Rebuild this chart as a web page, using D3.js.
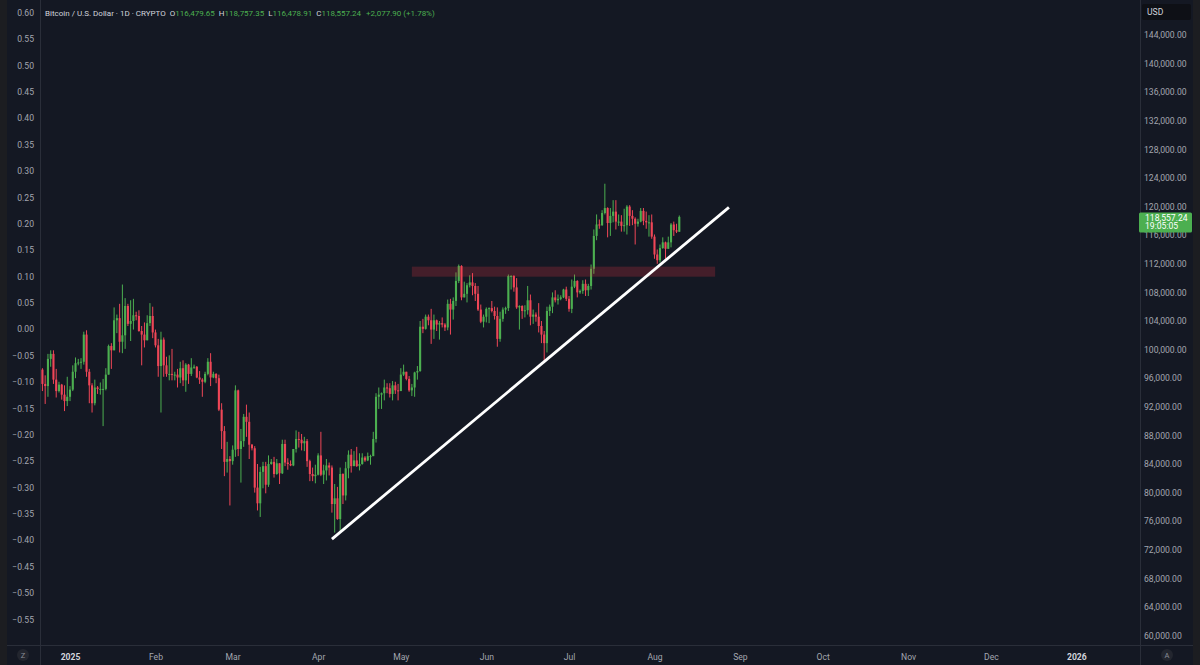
<!DOCTYPE html>
<html><head><meta charset="utf-8">
<script src="https://cdn.jsdelivr.net/npm/d3@7"></script>
<style>html,body{margin:0;padding:0;background:#141823;overflow:hidden}</style>
</head><body><svg id="c" width="1200" height="665"></svg>
<script>
// ---- DATA (prices in thousands of USD), one candle per day from startDate ----
const startDate = "2024-12-20";
const opens = [
97.5,97.8,97.2,95.2,94.9,98.7,99.4,95.8,94.2,95.1,93.7,92.8,
93.4,94.4,96.9,98.1,98.2,98.3,102.1,96.9,95.0,92.5,94.7,94.5,94.5,94.5,96.5,100.5,99.9,104.1,104.4,101.1,102.0,106.1,103.6,104.0,104.8,104.7,102.6,102.1,101.3,103.7,104.7,
102.4,100.6,97.7,101.4,97.8,96.6,96.6,96.5,96.5,96.1,97.4,95.7,97.9,96.6,97.5,97.6,96.1,95.8,95.5,96.6,98.3,96.1,96.6,96.0,91.6,88.6,84.3,84.7,
84.4,86.0,94.3,86.1,87.2,90.6,89.9,86.7,86.2,80.7,78.5,82.9,83.7,81.1,84.0,84.3,82.6,84.1,82.7,86.8,84.2,84.0,83.8,86.1,87.5,87.4,86.9,87.2,84.4,82.6,82.3,
82.5,85.2,82.5,83.1,83.8,83.5,78.4,79.2,76.3,82.6,79.6,83.4,85.3,83.7,84.5,83.7,84.0,84.9,84.5,85.1,85.1,87.5,93.4,93.7,93.9,94.7,94.6,93.8,95.0,94.3,
94.2,96.5,96.9,95.9,94.3,94.7,96.8,97.0,103.2,102.9,104.6,104.1,102.8,104.1,103.5,103.7,103.5,103.1,106.4,105.6,106.8,109.6,111.7,107.3,107.8,109.0,109.4,108.9,107.8,105.6,103.9,
104.6,105.7,105.8,105.4,104.7,101.5,104.3,105.6,105.8,110.3,110.3,108.7,105.9,106.1,105.4,105.5,106.9,104.6,104.9,104.6,103.3,102.1,100.9,105.4,106.0,107.3,106.9,107.1,107.3,108.4,
107.1,105.7,108.8,109.6,108.0,108.2,109.2,108.3,108.9,111.3,115.9,117.5,117.4,119.1,119.8,117.7,118.7,119.3,117.9,117.9,117.3,117.4,120.0,118.7,118.3,117.6,117.9,119.4,118.0,117.8,117.8,
115.8,113.3,112.5,114.2,115.0,114.1,115.0,117.5,116.7,116.47965
];
const highs = [
98.1,99.5,97.4,96.4,99.4,99.9,99.9,97.3,95.5,95.2,95.0,96.2,
94.9,97.8,98.9,98.7,98.8,102.5,102.7,97.3,95.3,95.8,94.9,95.4,95.9,97.4,100.7,100.9,105.9,104.9,106.4,109.1,107.2,106.4,106.9,107.1,105.3,105.5,103.3,103.8,104.8,106.5,106.0,
102.8,101.5,102.5,101.7,99.0,99.2,100.1,96.9,97.3,98.3,98.5,98.1,98.0,98.8,97.9,97.7,97.0,96.0,96.9,98.8,99.5,96.9,96.7,96.5,92.5,89.3,87.1,85.1,
86.6,95.0,94.4,88.9,91.0,92.3,91.2,86.8,86.5,84.0,83.6,84.3,84.3,85.2,84.7,85.0,84.7,84.1,87.4,87.4,84.8,84.5,86.1,88.7,88.5,88.2,87.8,87.5,84.6,83.5,83.9,
85.5,88.5,83.9,84.7,84.2,83.8,81.2,80.8,83.5,82.7,84.3,85.9,86.1,85.8,86.4,85.5,85.5,85.1,85.6,85.3,88.5,93.9,94.7,94.0,95.8,95.3,95.3,95.6,95.5,95.2,
97.4,97.9,96.9,96.3,95.2,96.9,97.7,104.0,104.3,104.9,104.9,105.7,104.9,104.2,104.0,104.5,103.7,107.0,107.1,107.3,110.8,111.9,111.8,109.5,109.3,110.4,110.7,109.3,108.9,106.3,104.9,
105.9,105.9,106.8,106.0,105.9,105.3,105.9,106.0,110.5,110.4,110.4,110.0,106.2,106.2,106.2,108.9,107.7,105.6,105.2,106.5,104.0,102.6,106.0,106.3,108.0,108.3,107.7,107.6,108.5,108.8,
107.5,109.8,110.5,109.7,108.4,109.7,109.8,109.2,111.9,116.8,118.9,118.2,119.5,123.2,119.9,119.8,120.9,120.9,118.9,118.8,119.7,120.2,120.2,119.5,118.5,118.3,119.8,119.8,119.3,118.8,118.9,
116.1,114.0,114.7,115.7,115.1,115.8,117.7,117.9,117.6,118.75735
];
const lows = [
92.2,96.4,94.2,92.4,93.4,97.6,95.2,93.3,94.0,93.0,91.4,92.1,
92.8,94.2,96.0,97.8,97.3,97.9,96.2,92.5,91.2,92.2,93.8,93.7,89.3,94.3,96.5,97.3,99.9,102.3,99.6,99.5,100.1,103.3,101.2,102.8,104.1,102.5,97.8,100.3,101.3,103.3,101.6,
100.3,96.2,91.2,96.2,96.2,95.7,95.7,95.7,94.7,95.3,94.9,94.1,95.2,96.3,97.3,96.0,95.2,93.4,95.3,96.4,94.9,96.0,95.3,91.4,86.1,82.3,82.8,78.2,
83.9,85.0,85.1,81.4,86.4,87.8,84.7,85.9,80.0,77.5,76.6,80.6,79.9,80.8,83.9,82.1,82.5,81.2,82.6,83.7,83.2,83.7,83.7,85.6,86.3,85.9,85.8,83.6,81.6,81.6,81.3,
82.4,82.3,81.2,81.7,82.4,77.2,74.4,76.2,74.6,78.4,78.9,82.0,82.8,83.7,83.6,83.1,83.9,84.3,84.4,83.9,85.1,87.0,91.7,91.7,92.9,93.9,93.3,92.9,93.8,92.9,
94.2,96.3,95.7,94.1,93.5,93.4,95.8,96.9,102.3,102.8,103.4,100.8,101.5,102.6,101.4,103.1,102.6,102.7,102.1,104.2,106.1,109.3,106.9,107.3,106.6,108.7,107.6,106.8,105.4,103.7,103.1,
103.8,103.7,105.2,104.2,100.4,101.1,103.9,105.0,105.4,108.4,108.1,105.7,102.8,104.3,104.5,104.9,103.4,103.6,103.9,102.4,100.9,98.2,99.6,104.7,105.1,106.6,106.3,106.9,107.2,106.8,
105.3,105.1,108.6,107.3,107.8,107.8,107.5,107.5,108.4,110.6,115.3,116.9,117.3,118.9,115.7,115.9,117.8,116.8,117.3,116.5,116.5,116.1,117.3,117.4,114.7,117.2,117.8,117.4,116.9,115.8,115.5,
112.7,112.0,112.2,114.1,112.7,114.1,114.3,115.9,116.3,116.47891
];
const closes = [
97.8,97.2,95.2,94.9,98.7,99.4,95.8,94.2,95.1,93.7,92.8,93.4,
94.4,96.9,98.1,98.2,98.3,102.1,96.9,95.0,92.5,94.7,94.5,94.5,94.5,96.5,100.5,99.9,104.1,104.4,101.1,102.0,106.1,103.6,104.0,104.8,104.7,102.6,102.1,101.3,103.7,104.7,102.4,
100.6,97.7,101.4,97.8,96.6,96.6,96.5,96.5,96.1,97.4,95.7,97.9,96.6,97.5,97.6,96.1,95.8,95.5,96.6,98.3,96.1,96.6,96.0,91.6,88.6,84.3,84.7,84.4,
86.0,94.3,86.1,87.2,90.6,89.9,86.7,86.2,80.7,78.5,82.9,83.7,81.1,84.0,84.3,82.6,84.1,82.7,86.8,84.2,84.0,83.8,86.1,87.5,87.4,86.9,87.2,84.4,82.6,82.3,82.5,
85.2,82.5,83.1,83.8,83.5,78.4,79.2,76.3,82.6,79.6,83.4,85.3,83.7,84.5,83.7,84.0,84.9,84.5,85.1,85.1,87.5,93.4,93.7,93.9,94.7,94.6,93.8,95.0,94.3,94.2,
96.5,96.9,95.9,94.3,94.7,96.8,97.0,103.2,102.9,104.6,104.1,102.8,104.1,103.5,103.7,103.5,103.1,106.4,105.6,106.8,109.6,111.7,107.3,107.8,109.0,109.4,108.9,107.8,105.6,103.9,104.6,
105.7,105.8,105.4,104.7,101.5,104.3,105.6,105.8,110.3,110.3,108.7,105.9,106.1,105.4,105.5,106.9,104.6,104.9,104.6,103.3,102.1,100.9,105.4,106.0,107.3,106.9,107.1,107.3,108.4,107.1,
105.7,108.8,109.6,108.0,108.2,109.2,108.3,108.9,111.3,115.9,117.5,117.4,119.1,119.8,117.7,118.7,119.3,117.9,117.9,117.3,117.4,120.0,118.7,118.3,117.6,117.9,119.4,118.0,117.8,117.8,115.8,
113.3,112.5,114.2,115.0,114.1,115.0,117.5,116.7,116.5,118.55724
];
const priceTicks = [60000,64000,68000,72000,76000,80000,84000,88000,92000,96000,100000,104000,108000,112000,116000,120000,124000,128000,132000,136000,140000,144000];
const leftTicks = [0.60,0.55,0.50,0.45,0.40,0.35,0.30,0.25,0.20,0.15,0.10,0.05,0.00,-0.05,-0.10,-0.15,-0.20,-0.25,-0.30,-0.35,-0.40,-0.45,-0.50,-0.55];
const monthTicks = ["2025-01-01","2025-02-01","2025-03-01","2025-04-01","2025-05-01","2025-06-01","2025-07-01","2025-08-01","2025-09-01","2025-10-01","2025-11-01","2025-12-01","2026-01-01"];
const monthLabels = ["2025","Feb","Mar","Apr","May","Jun","Jul","Aug","Sep","Oct","Nov","Dec","2026"];
const trendLine = [["2025-04-06",73.5],["2025-08-28",119.9]];
const zoneDates = ["2025-05-05","2025-08-23"];
const zonePrices = [110.2,111.6];
const lastPrice = 118.55724;
const lastPriceLabel = "118,557.24";
const countdown = "19:05:05";
const title = "Bitcoin / U.S. Dollar · 1D · CRYPTO";
const ohlcLabels = ["O","H","L","C"];
const ohlcValues = ["116,479.65","118,757.35","116,478.91","118,557.24"];
const changeLabel = "+2,077.90 (+1.78%)";

// ---- STYLE ----
const BG = "#141823", EDGE = "#1c1d21", BORDER = "#2a2e39";
const UP = "#4caf50", DOWN = "#ef4657";
const TXT = "#a3a6af", TXT2 = "#d1d4dc";
const FONT = "Roboto, 'Noto Sans', sans-serif";

const W = 1200, H = 665;
const plotL = 40.5, plotR = 1140.5, plotB = 645.5;
const svg = d3.select("#c").style("font-family", FONT);

const parse = d3.utcParse("%Y-%m-%d");
const x = d3.scaleUtc().domain([parse("2025-01-01"), parse("2026-01-01")]).range([70, 70 + 365 * 2.757]);
const y = d3.scaleLinear().domain([60, 144]).range([635.6, 35]);
const yl = d3.scaleLinear().domain([-0.55, 0.60]).range([619.3, 12.7]);

svg.append("rect").attr("width", W).attr("height", H).attr("fill", BG);
svg.append("rect").attr("x", 0).attr("y", 0).attr("width", 7).attr("height", H).attr("fill", EDGE);
svg.append("rect").attr("x", 1193).attr("y", 0).attr("width", 7).attr("height", H).attr("fill", EDGE);

// candles
const s0 = parse(startDate);
const candles = closes.map((c, i) => ({
  date: d3.utcDay.offset(s0, i), o: opens[i], h: highs[i], l: lows[i], c: c
}));
svg.append("clipPath").attr("id", "clip").append("rect")
  .attr("x", plotL).attr("y", 0).attr("width", plotR - plotL).attr("height", plotB);
const g = svg.append("g").attr("clip-path", "url(#clip)");
const cg = g.selectAll("g.c").data(candles).join("g");
cg.append("line")
  .attr("x1", d => x(d.date)).attr("x2", d => x(d.date))
  .attr("y1", d => y(d.h)).attr("y2", d => y(d.l))
  .attr("stroke", d => d.c >= d.o ? UP : DOWN).attr("stroke-width", 1);
cg.append("rect")
  .attr("x", d => x(d.date) - 1.05).attr("width", 2.1)
  .attr("y", d => y(Math.max(d.o, d.c)))
  .attr("height", d => Math.max(1, Math.abs(y(d.o) - y(d.c))))
  .attr("fill", d => d.c >= d.o ? UP : DOWN);

// zone
g.append("rect")
  .attr("x", x(parse(zoneDates[0]))).attr("width", x(parse(zoneDates[1])) - x(parse(zoneDates[0])))
  .attr("y", y(zonePrices[1])).attr("height", y(zonePrices[0]) - y(zonePrices[1]))
  .attr("fill", "rgba(242,54,69,0.22)");

// trend line
g.append("line")
  .attr("x1", x(parse(trendLine[0][0]))).attr("y1", y(trendLine[0][1]))
  .attr("x2", x(parse(trendLine[1][0]))).attr("y2", y(trendLine[1][1]))
  .attr("stroke", "#ffffff").attr("stroke-width", 2.8);

// borders
svg.append("line").attr("x1", 7).attr("x2", 1193).attr("y1", plotB).attr("y2", plotB).attr("stroke", BORDER);
svg.append("line").attr("x1", plotL).attr("x2", plotL).attr("y1", 0).attr("y2", H).attr("stroke", BORDER);
svg.append("line").attr("x1", plotR).attr("x2", plotR).attr("y1", 0).attr("y2", H).attr("stroke", BORDER);

// right price axis
const ra = svg.append("g").attr("transform", "translate(1144,0)")
  .call(d3.axisRight(y).tickValues(priceTicks.map(p => p / 1000)).tickSize(0).tickPadding(0)
    .tickFormat(d => d3.format(",.2f")(d * 1000)));
ra.select(".domain").remove();
ra.selectAll("text").attr("fill", TXT).style("font-size", "8.6px").style("font-family", FONT);

// USD box
svg.append("rect").attr("x", 1142).attr("y", 4).attr("width", 49).attr("height", 16).attr("rx", 2).attr("fill", "#0e1016");
svg.append("text").attr("x", 1147).attr("y", 15).text("USD").attr("fill", TXT2).style("font-size", "8.6px");

// left axis
const la = svg.append("g").attr("transform", "translate(34,0)")
  .call(d3.axisLeft(yl).tickValues(leftTicks).tickSize(0).tickPadding(0).tickFormat(d => d3.format(".2f")(d).replace("-", "\u2212")));
la.select(".domain").remove();
la.selectAll("text").attr("fill", TXT).style("font-size", "8.6px").style("font-family", FONT);

// bottom axis
const ba = svg.append("g").attr("transform", `translate(0,${plotB})`)
  .call(d3.axisBottom(x).tickValues(monthTicks.map(parse)).tickSize(0).tickPadding(8)
    .tickFormat((d, i) => monthLabels[i]));
ba.select(".domain").remove();
ba.selectAll("text").attr("fill", (d, i) => (i === 0 || i === monthLabels.length - 1) ? TXT2 : TXT)
  .style("font-weight", (d, i) => (i === 0 || i === monthLabels.length - 1) ? "bold" : "normal")
  .style("font-size", "8.6px").style("font-family", FONT);

// Z / A buttons
svg.append("circle").attr("cx", 23).attr("cy", 655).attr("r", 6).attr("fill", "#23262f");
svg.append("text").attr("x", 23).attr("y", 658).attr("text-anchor", "middle").text("Z").attr("fill", "#8a8d96").style("font-size", "7.5px");
svg.append("circle").attr("cx", 1167).attr("cy", 655).attr("r", 6).attr("fill", "#23262f");
svg.append("text").attr("x", 1167).attr("y", 658).attr("text-anchor", "middle").text("A").attr("fill", "#8a8d96").style("font-size", "7.5px");

// last price label
const ly = y(lastPrice);
svg.append("rect").attr("x", 1139).attr("y", ly - 4.5).attr("width", 53).attr("height", 20).attr("rx", 1.5).attr("fill", UP);
svg.append("text").attr("x", 1145).attr("y", ly + 4).text(lastPriceLabel).attr("fill", "#ffffff").style("font-size", "8.6px");
svg.append("text").attr("x", 1145).attr("y", ly + 12.5).text(countdown).attr("fill", "#ffffff").style("font-size", "8.6px");

// header legend
const ht = svg.append("text").attr("x", 45).attr("y", 16).style("font-size", "8.0px").attr("fill", TXT2);
ht.append("tspan").text(title);
ohlcLabels.forEach((l, i) => {
  ht.append("tspan").attr("dx", i === 0 ? 4 : 4).text(l).attr("fill", TXT2);
  ht.append("tspan").text(ohlcValues[i]).attr("fill", UP);
});
ht.append("tspan").attr("dx", 5).text(changeLabel).attr("fill", UP);
</script>
</body></html>
